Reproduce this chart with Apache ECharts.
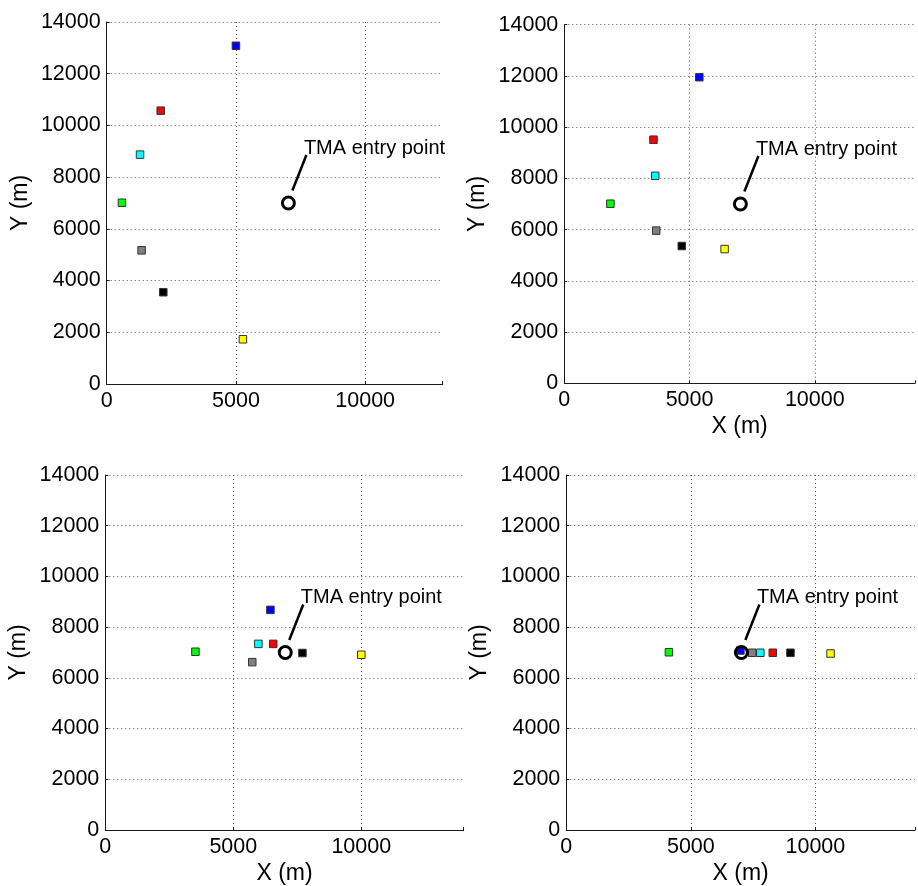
<!DOCTYPE html>
<html>
<head>
<meta charset="utf-8">
<script src="https://cdn.jsdelivr.net/npm/echarts@6/dist/echarts.min.js"></script>
<style>
  html, body { margin: 0; padding: 0; background: #fff; overflow: hidden; }
  #chart { width: 918px; height: 886px; }
</style>
</head>
<body>
<div id="chart"></div>
<script>
// Aircraft colours, same order in every snapshot:
// blue, red, cyan, green, grey, black, yellow
const aircraftColors = ['#0000ff', '#ff0000', '#00ffff', '#00ff00', '#808080', '#000000', '#ffff00'];

// Snapshot 1
const x1 = [5000, 2090, 1290, 590, 1350, 2190, 5270];
const y1 = [13080, 10570, 8870, 7010, 5170, 3550, 1730];
// Snapshot 2
const x2 = [5390, 3560, 3630, 1840, 3670, 4690, 6400];
const y2 = [11950, 9510, 8100, 7010, 5960, 5360, 5240];
// Snapshot 3
const x3 = [6450, 6560, 5980, 3520, 5740, 7700, 10000];
const y3 = [8680, 7340, 7340, 7030, 6620, 6980, 6910];
// Snapshot 4
const x4 = [6990, 8290, 7790, 4120, 7460, 9000, 10610];
const y4 = [7080, 6990, 6990, 7010, 6990, 6990, 6960];

// TMA entry point
const tmaX = 7030;
const tmaY = 7000;
const tmaText = 'TMA entry point';

// Axis ranges and tick steps
const xMaxes = [13000, 14000, 14000, 14000];
const yMax = 14000;
const xStep = 5000;
const yStep = 2000;
const xNames = ['', 'X (m)', 'X (m)', 'X (m)'];
const yName = 'Y (m)';

const FONT = 'Liberation Sans, Arial, sans-serif';

const panels = [[x1, y1], [x2, y2], [x3, y3], [x4, y4]];

const grids = [
  { left: 106.7, top: 22,   width: 336,   height: 362 },
  { left: 564.3, top: 24.7, width: 358.4, height: 358.6 },
  { left: 105.3, top: 475,  width: 358.4, height: 357.3 },
  { left: 566.3, top: 475,  width: 358.4, height: 356.7 }
];

const axisLineStyle = { color: '#1a1a1a', width: 1 };
const gridLineStyle = { color: '#555', width: 1, type: [1, 3] };

const xAxes = grids.map((g, i) => ({
  type: 'value',
  gridIndex: i,
  min: 0,
  max: xMaxes[i],
  interval: xStep,
  name: xNames[i],
  nameLocation: 'middle',
  nameGap: 32,
  nameTextStyle: { fontSize: 23, color: '#000', fontFamily: FONT },
  axisLine: { show: true, onZero: false, lineStyle: axisLineStyle },
  axisTick: { show: true, inside: true, length: 3, lineStyle: axisLineStyle },
  axisLabel: {
    fontSize: 21.5, color: '#000', fontFamily: FONT, margin: 6,
    formatter: v => (v % xStep === 0 ? String(v) : '')
  },
  splitLine: { show: true, showMinLine: false, showMaxLine: false, lineStyle: gridLineStyle }
}));

const yAxes = grids.map((g, i) => ({
  type: 'value',
  gridIndex: i,
  min: 0,
  max: yMax,
  interval: yStep,
  name: yName,
  nameLocation: 'middle',
  nameGap: 75,
  nameRotate: 90,
  nameTextStyle: { fontSize: 23, color: '#000', fontFamily: FONT },
  axisLine: { show: true, onZero: false, lineStyle: axisLineStyle },
  axisTick: { show: true, inside: true, length: 3, lineStyle: axisLineStyle },
  axisLabel: {
    fontSize: 21.5, color: '#000', fontFamily: FONT, margin: 6,
    formatter: v => String(v)
  },
  splitLine: { show: true, showMinLine: false, lineStyle: gridLineStyle }
}));

const series = [];
panels.forEach(([xs, ys], i) => {
  // aircraft positions
  series.push({
    type: 'scatter',
    xAxisIndex: i,
    yAxisIndex: i,
    symbol: 'rect',
    symbolSize: 7.5,
    z: 2,
    silent: true,
    data: xs.map((x, k) => [x, ys[k], k]),
    itemStyle: {
      color: p => aircraftColors[p.data[2]],
      borderColor: '#333',
      borderWidth: 1,
      opacity: 1
    }
  });
  // TMA entry point marker
  series.push({
    type: 'scatter',
    xAxisIndex: i,
    yAxisIndex: i,
    symbol: 'circle',
    symbolSize: 12,
    z: 3,
    silent: true,
    data: [[tmaX, tmaY]],
    itemStyle: { color: 'rgba(0,0,0,0)', borderColor: '#000', borderWidth: 3, opacity: 1 }
  });
  // leader line and caption
  series.push({
    type: 'custom',
    xAxisIndex: i,
    yAxisIndex: i,
    z: 4,
    silent: true,
    clip: false,
    data: [[tmaX, tmaY]],
    renderItem: (params, api) => {
      const p = api.coord([api.value(0), api.value(1)]);
      return {
        type: 'group',
        children: [
          {
            type: 'line',
            shape: { x1: p[0] + 4, y1: p[1] - 12.5, x2: p[0] + 18, y2: p[1] - 48 },
            style: { stroke: '#000', lineWidth: 2.5 }
          },
          {
            type: 'text',
            x: p[0] + 15.5,
            y: p[1] - 55,
            style: {
              text: tmaText, fontSize: 20, fontFamily: FONT, fill: '#000',
              align: 'left', verticalAlign: 'middle'
            }
          }
        ]
      };
    }
  });
});

const chart = echarts.init(document.getElementById('chart'), null, { renderer: 'canvas' });
chart.setOption({
  animation: false,
  backgroundColor: '#fff',
  grid: grids,
  xAxis: xAxes,
  yAxis: yAxes,
  series: series
});
</script>
</body>
</html>
